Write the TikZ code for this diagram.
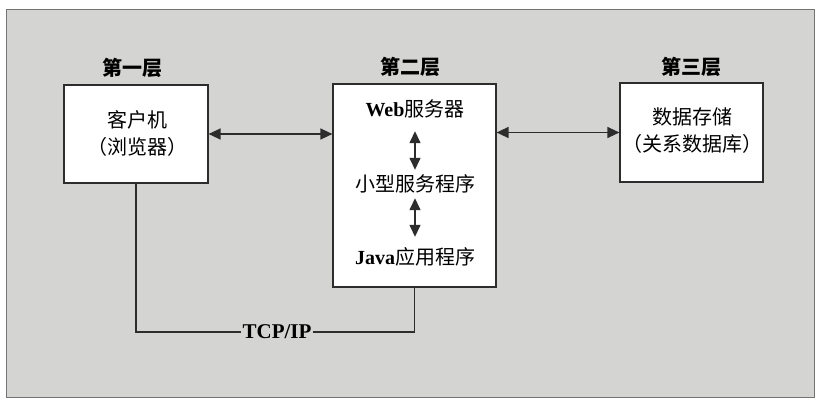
\documentclass[tikz,border=0pt]{standalone}
\usepackage{fontspec}
\setmainfont{Liberation Serif}
\newfontfamily\cjk{Noto Sans CJK SC}
\usetikzlibrary{arrows.meta}
\definecolor{bggray}{RGB}{212,212,210}
\definecolor{linegray}{RGB}{45,45,45}
\tikzset{
  box/.style={draw=linegray, fill=white, line width=1.2pt, inner sep=0pt},
  title/.style={font=\cjk\bfseries\fontsize{20}{20}\selectfont, inner sep=0pt},
  lbl/.style={font=\cjk\fontsize{20}{27}\selectfont, align=center, inner sep=0pt},
  txt/.style={font=\cjk\fontsize{20}{22}\selectfont, inner sep=0pt, text height=16pt, text depth=4pt},
  biarrow/.style={{Triangle[length=12pt,width=11pt]}-{Triangle[length=12pt,width=11pt]}, line width=1.4pt, draw=linegray},
  wire/.style={line width=1.2pt, draw=linegray},
}
\begin{document}
\begin{tikzpicture}[x=1pt,y=-1pt]
\useasboundingbox (0,0) rectangle (818,399);
\fill[white] (0,0) rectangle (818,399);
\draw[fill=bggray, draw=black!55, line width=1pt] (6,9) rectangle (814,397);

% titles
\node[title] (h1) at (132,68) {第一层};
\node[title] (h2) at (410,67) {第二层};
\node[title] (h3) at (691,67) {第三层};

% boxes
\node[box, minimum width=144pt, minimum height=98pt] (b1) at (136,134) {};
\node[box, minimum width=163pt, minimum height=203pt] (b2) at (414.5,185.5) {};
\node[box, minimum width=143pt, minimum height=99pt] (b3) at (691.5,132.5) {};

% box texts
\node[lbl] (c1) at (137,133) {客户机\\（浏览器）};
\node[lbl] (c3) at (692,131) {数据存储\\（关系数据库）};

\node[txt] (t1) at (415,110) {{\fontspec{Liberation Serif}\bfseries Web}服务器};
\node[txt] (t2) at (415,185) {小型服务程序};
\node[txt] (t3) at (415,258) {{\fontspec{Liberation Serif}\bfseries Java}应用程序};

% arrows
\draw[biarrow] (b1.east) -- (b1.east -| b2.west);
\draw[biarrow] (b3.west -| b2.east) -- (b3.west);
\draw[biarrow, shorten <=11pt, shorten >=5pt] (t1.south) -- (t2.north);
\draw[biarrow, shorten <=3pt, shorten >=11pt] (t2.south) -- (t3.north);

% TCP/IP link
\node[font=\bfseries\fontsize{21}{21}\selectfont, inner sep=1pt] (tcp) at (277,332) {TCP/IP};
\draw[wire] (b1.south) |- (tcp.west);
\draw[wire] (tcp.east) -| (b2.south);
\end{tikzpicture}
\end{document}
